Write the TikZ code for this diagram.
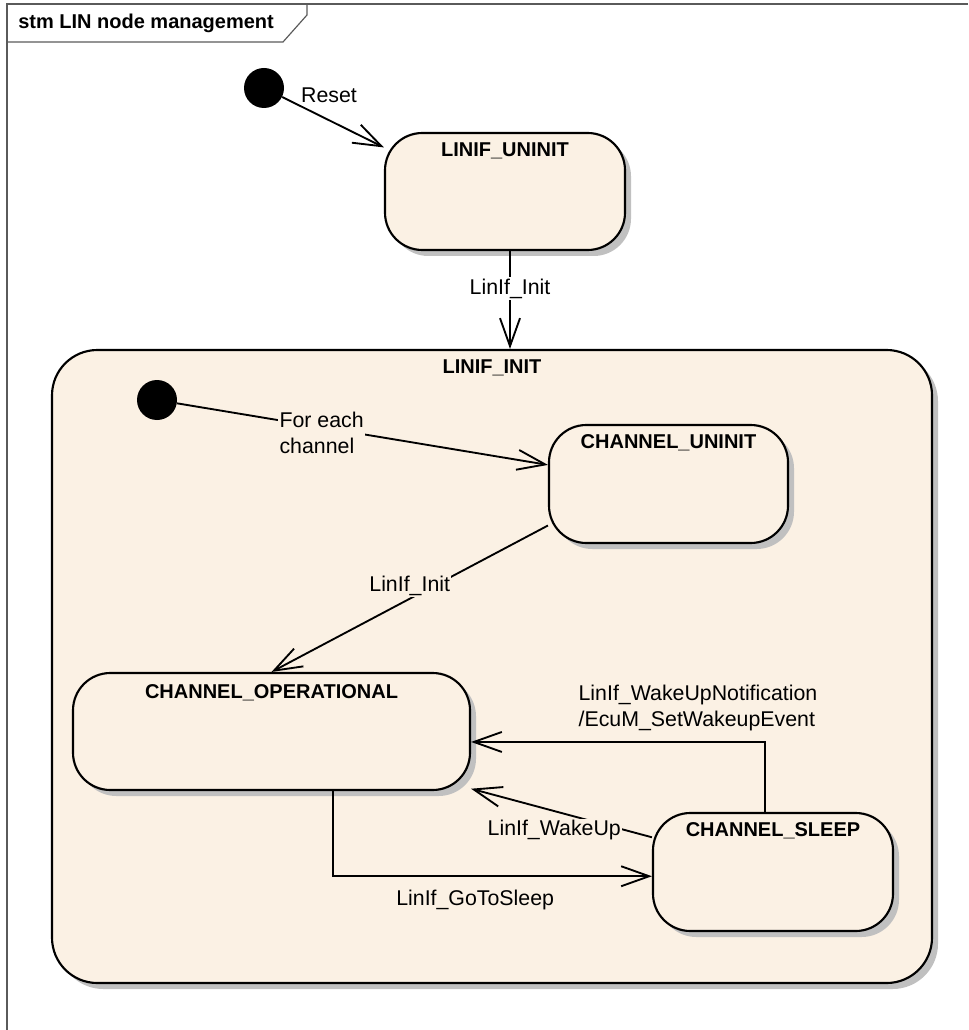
\documentclass[tikz,border=0pt]{standalone}
\usepackage{fontspec}
\setmainfont{Liberation Sans}
\usepackage{tikz}
\usetikzlibrary{arrows.meta, shadows}

\definecolor{statefill}{RGB}{251,241,228}
\definecolor{shadowgray}{RGB}{192,192,192}
\definecolor{framegray}{RGB}{90,90,90}

\begin{document}
\begin{tikzpicture}[
    x=0.75pt, y=-0.75pt,
    state style/.style={rectangle, rounded corners=28pt, draw=black, line width=1.6pt, fill=statefill,
        drop shadow={shadow xshift=4.5pt, shadow yshift=-4.5pt, fill=shadowgray, opacity=1}},
    % state style/.style={rectangle, rounded corners, draw=black, fill=statefill},
    state title/.style={anchor=north, inner sep=0pt, yshift=-8pt, font=\bfseries\fontsize{15}{18}\selectfont},
    initial style/.style={circle, fill=black, minimum size=30pt, inner sep=0pt},
    trans/.style={line width=1.4pt, -{Straight Barb[length=21pt, width=15pt]}},
    translabel/.style={fill=statefill, inner sep=1pt, font=\fontsize{16}{19.5}\selectfont},
]
    \useasboundingbox (0,0) rectangle (968,1030);

    % Frame
    \draw[framegray, line width=0.9pt] (968,4) -- (7,4) -- (7,1030);
    \draw[framegray, line width=0.9pt] (7,42) -- (283,42) -- (307,15) -- (307,4);
    \node[anchor=base west, inner sep=0pt, font=\bfseries\fontsize{15}{18}\selectfont] (frametitle) at (18,28.5) {stm LIN node management};

    % States
    \node[state style, rounded corners=34pt, minimum width=660pt, minimum height=474.75pt,
        label={[state title]north:LINIF\_INIT}] (init) at (492,666.5) {};
    \node[state style, minimum width=180pt, minimum height=87.75pt,
        label={[state title]north:LINIF\_UNINIT}] (uninit) at (505,191.5) {};
    \node[state style, minimum width=179.25pt, minimum height=88.5pt,
        label={[state title]north:CHANNEL\_UNINIT}] (chuninit) at (668.5,484) {};
    \node[state style, minimum width=297.75pt, minimum height=87.75pt,
        label={[state title, yshift=-1.5pt]north:CHANNEL\_OPERATIONAL}] (chop) at (271.5,731.5) {};
    \node[state style, minimum width=180pt, minimum height=88.5pt,
        label={[state title]north:CHANNEL\_SLEEP}] (chsleep) at (773,872) {};

    % Initial pseudo states
    \node[initial style] (start) at (264,88) {};
    \node[initial style] (chstart) at (157,400) {};

    % Transitions with labels
    \draw[trans] (start) -- node[translabel, fill=none, pos=0.46, anchor=base, yshift=13.5pt] {Reset} (uninit.160.3);
    \draw[trans] ([xshift=3.75pt]uninit.south) -- node[translabel, fill=white, pos=0.44, anchor=base] {LinIf\_Init} ([xshift=3.75pt]uninit.south |- init.north);

    \draw[trans] (chstart) -- node[translabel, pos=0.39, align=left, yshift=-4pt] {For each\\channel} (chuninit.171.4);
    \draw[trans] (chuninit.199.9) -- node[translabel, pos=0.5, anchor=base, yshift=5.25pt] {LinIf\_Init} (chop.north);

    \draw[trans] ([xshift=46pt]chop.south) |- node[translabel, pos=0.723, anchor=base, yshift=-21.75pt] {LinIf\_GoToSleep} (chsleep.182.9);
    \draw[trans] ([xshift=-6pt]chsleep.north) |- node[translabel, pos=0.614, align=left, yshift=25.7pt] {LinIf\_WakeUpNotification\\/EcuM\_SetWakeupEvent} (chop.357.3);
    \draw[trans] (chsleep.164.2) -- node[translabel, pos=0.54, anchor=base, yshift=-18.6pt] {LinIf\_WakeUp} (chop.344.65);

\end{tikzpicture}
\end{document}
